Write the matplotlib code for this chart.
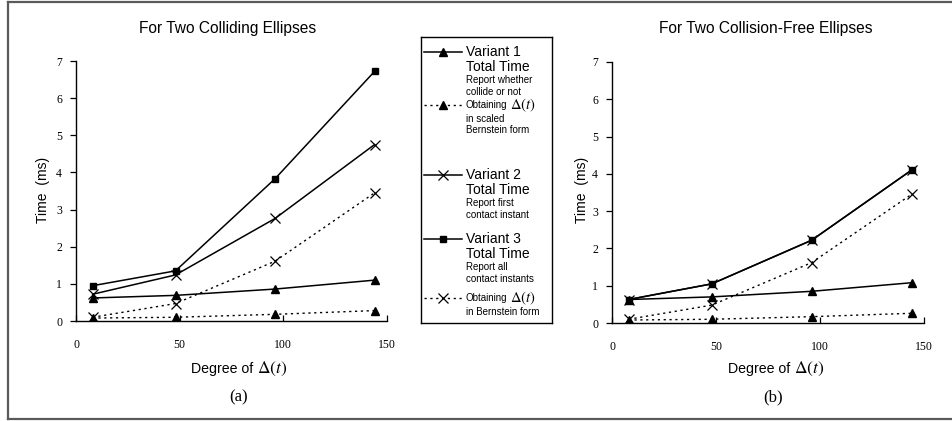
import matplotlib
matplotlib.use("Agg")
from matplotlib import pyplot
from matplotlib.lines import Line2D

pyplot.rcParams['mathtext.fontset'] = 'stix'

# degree of Delta(t)
degrees = [8, 48, 96, 144]

# (a) two colliding ellipses
a_v1_total = [0.62, 0.69, 0.86, 1.10]
a_v1_scaled = [0.08, 0.10, 0.18, 0.28]
a_v2_total = [0.72, 1.24, 2.76, 4.75]
a_v3_total = [0.95, 1.35, 3.83, 6.72]
a_bernstein = [0.10, 0.47, 1.61, 3.45]

# (b) two collision-free ellipses
b_v1_total = [0.63, 0.70, 0.85, 1.08]
b_v1_scaled = [0.08, 0.10, 0.17, 0.26]
b_v2_total = [0.63, 1.05, 2.22, 4.10]
b_v3_total = [0.63, 1.05, 2.22, 4.10]
b_bernstein = [0.10, 0.48, 1.62, 3.45]

xticks = [0, 50, 100, 150]
yticks = [0, 1, 2, 3, 4, 5, 6, 7]

W, H = 952, 421
SANS = ['Liberation Sans', 'DejaVu Sans']
NARROW = ['Liberation Sans Narrow', 'Liberation Sans', 'DejaVu Sans']
SERIF = ['Liberation Serif', 'DejaVu Serif']

solid = dict(color='black', linewidth=1.1, linestyle='-')
dotted = dict(color='black', linewidth=1.0, linestyle=(0, (1.6, 2.6)))
tri = dict(marker='^', markersize=5.5)
sq = dict(marker='s', markersize=5)
cross = dict(marker='x', markersize=7, markeredgewidth=0.9)


def fx(x):
 return x / W


def fy(y):
 return 1 - y / H


fig = pyplot.figure(figsize=(W / 100, H / 100), dpi=100)

# outer frame
for xs, ys in [([8, 8], [2, 419]), ([8, 952], [2, 2]), ([8, 952], [419, 419])]:
 fig.add_artist(Line2D([fx(v) for v in xs], [fy(v) for v in ys], color='#5a5a5a',
                       linewidth=1.6, transform=fig.transFigure))


def panel(box, series, title, title_x, deg_x, time_x, letter, letter_x):
 x0, y0, x1, y1 = box
 ax = fig.add_axes([fx(x0), fy(y1), (x1 - x0) / W, (y1 - y0) / H])
 v1_total, v1_scaled, v2_total, v3_total, bern = series
 ax.plot(degrees, v1_scaled, **dotted, **tri)
 ax.plot(degrees, bern, **dotted, **cross)
 ax.plot(degrees, v1_total, **solid, **tri)
 ax.plot(degrees, v3_total, **solid, **sq)
 ax.plot(degrees, v2_total, **solid, **cross)
 ax.set_xlim(0, 150)
 ax.set_ylim(0, 7)
 ax.set_xticks(xticks)
 ax.set_yticks(yticks)
 ax.spines['top'].set_visible(False)
 ax.spines['right'].set_visible(False)
 for s in ['left', 'bottom']:
  ax.spines[s].set_linewidth(1.0)
 ax.tick_params(axis='x', direction='in', length=4, width=0.9, pad=13)
 ax.tick_params(axis='y', direction='out', length=4, width=0.9, pad=6)
 for lab in ax.get_xticklabels() + ax.get_yticklabels():
  lab.set_fontfamily(SERIF)
  lab.set_fontsize(8.5)
 fig.text(fx(title_x), fy(29), title, family=SANS, fontsize=11.2, ha='center', va='center')
 fig.text(fx(time_x), fy(190), 'Time  (ms)', family=SANS, fontsize=10, rotation=90,
          ha='center', va='center')
 fig.text(fx(deg_x), fy(369), 'Degree of', family=SANS, fontsize=10.2,
          ha='right', va='center')
 fig.text(fx(deg_x + 4), fy(369), r'$\Delta(t)$', fontsize=12.5, ha='left', va='center')
 fig.text(fx(letter_x), fy(397), letter, family=SERIF, fontsize=12, ha='center', va='center')
 return ax


panel((76, 61, 387, 321), [a_v1_total, a_v1_scaled, a_v2_total, a_v3_total, a_bernstein],
      'For Two Colliding Ellipses', 228, 253, 43, '(a)', 239)
panel((612, 62, 924, 323), [b_v1_total, b_v1_scaled, b_v2_total, b_v3_total, b_bernstein],
      'For Two Collision-Free Ellipses', 766, 790, 582, '(b)', 773)

# legend box, drawn in pixel units of the figure
lg = fig.add_axes([fx(421), fy(323), (552 - 421) / W, (323 - 37) / H])
lg.set_xlim(421, 552)
lg.set_ylim(323, 37)
lg.set_xticks([])
lg.set_yticks([])
for s in lg.spines.values():
 s.set_linewidth(1.0)

entries = [
 (52, solid, tri, 'Variant 1', ['Report whether', 'collide or not']),
 (105, dotted, tri, None, ['in scaled', 'Bernstein form']),
 (175, solid, cross, 'Variant 2', ['Report first', 'contact instant']),
 (239, solid, sq, 'Variant 3', ['Report all', 'contact instants']),
 (298, dotted, cross, None, ['in Bernstein form']),
]
for y, ls, mk, big, small in entries:
 lg.plot([424, 462], [y, y], **ls)
 lg.plot([443], [y], color='black', linestyle='none', **mk)
 if big:
  lg.text(466, y, big, family=SANS, fontsize=10, va='center')
  lg.text(466, y + 15, 'Total Time', family=SANS, fontsize=10, va='center')
  yy = y + 28
  for t in small:
   lg.text(466, yy, t, family=NARROW, fontsize=7, va='center')
   yy += 12
 else:
  t1 = lg.text(466, y, 'Obtaining', family=NARROW, fontsize=7, va='center')
  lg.annotate(r'$\Delta(t)$', xy=(1, 0.45), xycoords=t1, xytext=(2, 0),
              textcoords='offset points', fontsize=10.5, va='center')
  yy = y + 14
  for t in small:
   lg.text(466, yy, t, family=NARROW, fontsize=7, va='center')
   yy += 11

fig.savefig('out.png', dpi=100)
